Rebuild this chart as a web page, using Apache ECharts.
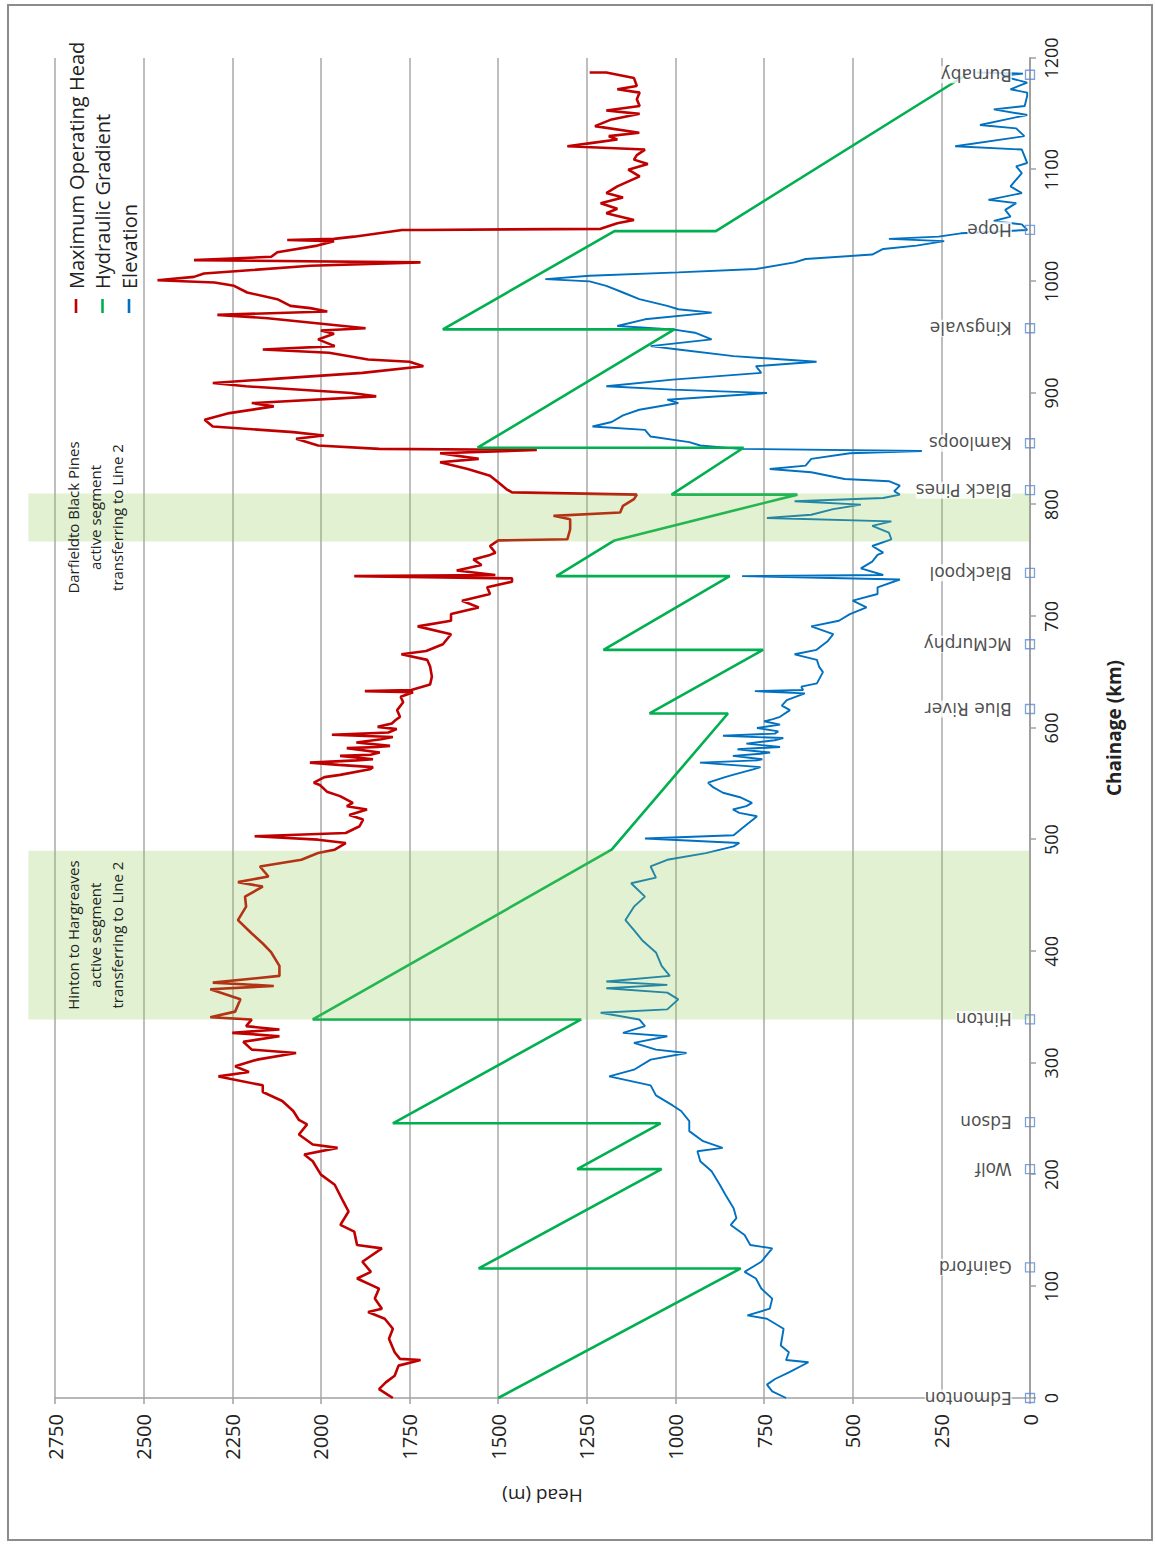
<!DOCTYPE html>
<html>
<head>
<meta charset="utf-8">
<script src="https://cdn.jsdelivr.net/npm/echarts@6/dist/echarts.min.js"></script>
<style>
html, body { margin:0; padding:0; background:#fff; width:1155px; height:1546px; overflow:hidden; }
#frame { position:absolute; left:7px; top:4px; width:1146px; height:1537px; border:2px solid #8c8c8c; box-sizing:border-box; }
#chart { position:absolute; left:0; top:0; width:1546px; height:1155px; transform-origin:0 0; transform:translateY(1546px) rotate(-90deg); }
</style>
</head>
<body>
<div id="frame"></div>
<div id="chart"></div>
<script>
// ---------------- DATA ----------------
const seriesNames = ['Maximum Operating Head', 'Hydraulic Gradient', 'Elevation'];

// [chainage km, head m]
const maximumOperatingHead = [
 [0,1797],[3,1812],[8,1836],[14,1817],[20,1792],[29,1781],[34,1719],[35,1777],[41,1792],[53,1808],
 [62,1797],[71,1820],[77,1867],[80,1828],[89,1848],[98,1836],[107,1898],[113,1859],[122,1883],[134,1828],
 [137,1898],[149,1906],[155,1945],[167,1922],[176,1937],[191,1961],[200,2000],[212,2023],[218,2047],[224,1953],
 [227,2023],[236,2062],[245,2039],[249,2062],[257,2078],[266,2109],[274,2164],[280,2164],[288,2289],[292,2203],
 [297,2242],[303,2180],[309,2070],[312,2195],[319,2219],[324,2117],[327,2250],[330,2117],[333,2211],[339,2195],
 [341,2312],[346,2242],[357,2227],[366,2312],[369,2133],[372,2305],[375,2211],[378,2117],[387,2117],[399,2140],
 [407,2164],[416,2195],[428,2234],[440,2211],[449,2214],[458,2164],[462,2234],[467,2148],[476,2172],[482,2055],
 [488,2008],[491,1961],[497,1930],[500,2008],[503,2187],[506,1930],[512,1891],[518,1881],[522,1920],[527,1870],
 [530,1927],[533,1910],[539,1946],[543,1983],[549,2003],[551,2020],[556,1990],[558,1946],[563,1862],[565,1853],
 [567,1950],[569,2031],[571,1900],[572,1853],[575,1946],[576,1860],[578,1834],[582,1927],[583,1840],[584,1805],
 [587,1900],[590,1830],[592,1797],[594,1969],[596,1810],[599,1786],[601,1840],[604,1800],[607,1790],[610,1777],
 [616,1785],[623,1768],[628,1775],[632,1740],[633,1876],[634,1745],[639,1692],[646,1687],[655,1692],[661,1700],
 [666,1773],[669,1703],[675,1656],[684,1633],[691,1727],[696,1633],[702,1633],[708,1555],
 [714,1602],[720,1523],[726,1531],[731,1461],[734,1461],[736,1906],[737,1508],[741,1617],[746,1547],[751,1570],
 [755,1523],[757,1508],[763,1523],[768,1500],[769,1305],[778,1297],[787,1297],[790,1344],[793,1156],[799,1148],
 [805,1117],[809,1109],[811,1461],[814,1477],[820,1500],[826,1523],[832,1586],[838,1664],[841,1555],[846,1664],
 [849,1391],[850,1836],[853,2008],[859,2070],[862,1992],[865,2078],[870,2305],[876,2328],[882,2258],[888,2133],
 [891,2195],[897,1844],[900,1914],[906,2211],[909,2305],[912,2164],[918,1883],[924,1711],[928,1750],[930,1867],
 [936,1977],[939,2164],[942,1961],[948,2008],[953,1963],[956,2000],[958,1874],[967,2150],[970,2292],[973,1982],
 [976,2030],[978,2086],[984,2123],[990,2208],[996,2245],[999,2300],[1001,2461],[1004,2358],[1007,2330],[1014,2030],
 [1017,1719],[1019,2358],[1022,2140],[1026,2123],[1032,2010],[1036,1963],[1037,2095],[1038,1963],[1040,1907],[1046,1771],
 [1046,1719],[1047,1211],[1052,1164],[1055,1117],[1061,1195],[1065,1164],[1070,1211],[1075,1148],[1079,1195],[1085,1164],
 [1094,1101],[1100,1133],[1105,1078],[1109,1117],[1113,1109],[1118,1086],[1121,1305],[1124,1234],[1127,1164],[1130,1188],
 [1133,1102],[1139,1227],[1145,1180],[1150,1101],[1153,1195],[1157,1101],[1163,1109],[1169,1101],[1172,1164],[1175,1109],
 [1182,1117],[1187,1195],[1187,1242]
];

const hydraulicGradient = [
 [0,1500],[116,816],[116,1555],[205,1039],[205,1277],[246,1042],[246,1797],[339,1266],[339,2023],[491,1180],
 [613,852],[613,1073],[670,753],[670,1203],[736,847],[736,1336],[768,1172],[809,656],[809,1011],[851,808],
 [851,1558],[957,1003],[957,1656],[1045,1172],[1045,886],[1185,180]
];

const elevation = [
 [0,688],[6,727],[12,742],[17,719],[23,680],[32,625],[34,688],[41,680],[47,703],[62,695],
 [71,742],[74,797],[80,734],[89,727],[98,758],[107,773],[113,805],[122,758],[134,727],[137,789],
 [146,805],[155,844],[161,828],[170,836],[182,859],[191,875],[203,898],[212,930],[221,938],[224,867],
 [230,922],[239,961],[248,961],[257,984],[262,1008],[271,1055],[280,1070],[288,1187],[294,1117],[303,1070],
 [309,969],[312,1055],[318,1117],[324,1023],[327,1148],[333,1086],[339,1102],[345,1211],[348,1023],[357,992],
 [363,1023],[367,1195],[370,1023],[373,1195],[378,1016],[387,1039],[399,1055],[410,1094],[419,1117],[428,1141],
 [440,1117],[449,1086],[461,1125],[466,1055],[476,1070],[482,1023],[488,914],[494,836],[497,820],[501,1086],
 [504,836],[512,805],[518,781],[521,770],[524,820],[527,838],[530,800],[533,784],[538,818],[542,866],
 [547,894],[551,908],[556,860],[558,838],[563,781],[565,760],[569,931],[571,770],[572,755],[575,838],
 [577,760],[578,733],[581,825],[583,705],[586,800],[589,720],[591,696],[593,866],[595,720],[597,710],
 [600,770],[603,705],[606,750],[608,725],[610,705],[616,677],[620,700],[625,686],[631,635],[633,776],
 [634,640],[637,645],[640,601],[650,584],[655,595],[661,601],[666,664],[670,602],[678,570],
 [684,555],[691,617],[696,539],[702,508],[708,461],[714,500],[720,430],[726,430],[733,367],[736,812],
 [737,414],[743,477],[749,445],[755,430],[757,414],[763,445],[769,391],[775,398],[781,445],[785,391],
 [788,742],[791,617],[796,555],[800,477],[803,664],[806,414],[809,367],[812,383],[817,367],[821,398],
 [823,523],[829,617],[832,734],[835,633],[841,617],[846,508],[848,305],[850,820],[853,930],[856,961],
 [861,1070],[867,1086],[870,1234],[874,1180],[880,1148],[885,1102],[891,992],[894,1023],[900,742],[903,1008],
 [906,1195],[912,1008],[918,758],[924,773],[928,602],[933,836],[939,992],[942,1070],[948,898],[954,945],
 [957,1008],[960,1164],[966,1086],[972,898],[975,992],[978,1023],[984,1102],[990,1148],[996,1195],[1000,1242],
 [1002,1367],[1005,1242],[1008,992],[1011,773],[1017,664],[1020,633],[1024,445],[1029,414],[1032,320],[1036,242],
 [1038,398],[1040,258],[1043,195],[1046,8],[1051,23],[1054,102],[1058,55],[1064,70],[1070,39],[1073,117],
 [1079,23],[1085,55],[1097,23],[1103,39],[1106,8],[1118,23],[1121,211],[1130,16],[1137,39],[1140,141],
 [1149,8],[1154,102],[1157,15],[1166,8],[1169,8],[1172,55],[1178,8],[1184,80],[1186,20],[1187,150]
];

const stationNames = ['Edmonton','Gainford','Wolf','Edson','Hinton','Blue River','McMurphy','Blackpool','Black Pines','Kamloops','Kingsvale','Hope','Burnaby'];
const stationKm = [0,117,205,247,339,617,675,739,813,855,958,1046,1185];

// shaded segments: [start km, end km]
const bandRanges = [[339,490],[767,810]];
const bandLabels = [
 'Hinton to Hargreaves\nactive segment\ntransferring to Line 2',
 'Darfieldto Black Pines\nactive segment\ntransferring to Line 2'
];
const bandTopHead = 2825;

// ---------------- CHART ----------------
const FONT = "'Open Sans', 'DejaVu Sans', sans-serif";
const chart = echarts.init(document.getElementById('chart'), null, { renderer: 'svg', width: 1546, height: 1155 });

const option = {
  animation: false,
  backgroundColor: 'transparent',
  textStyle: { fontFamily: FONT },
  grid: { left: 148, right: 58, top: 55, bottom: 125 },
  legend: {
    data: seriesNames.map(n => ({ name: n, icon: 'rect' })),
    orient: 'vertical',
    left: 1228,
    top: 61,
    itemWidth: 14,
    itemHeight: 2.6,
    itemGap: 6.5,
    selectedMode: false,
    textStyle: { fontSize: 20, lineHeight: 20, color: '#222', fontFamily: FONT, padding: [0, 0, 0, 5] }
  },
  xAxis: {
    type: 'value', min: 0, max: 1200, interval: 100,
    name: 'Chainage (km)', nameLocation: 'middle', nameGap: 74,
    nameTextStyle: { fontSize: 19, fontWeight: 'bold', color: '#222', fontFamily: FONT },
    axisLine: { show: true, onZero: false, lineStyle: { color: '#a0a0a0', width: 2 } },
    axisTick: { show: true, length: 6, lineStyle: { color: '#a0a0a0', width: 1.5 } },
    axisLabel: { fontSize: 18, color: '#222', margin: 12, formatter: v => String(v) },
    splitLine: { show: false }
  },
  yAxis: {
    type: 'value', min: 0, max: 2750, interval: 250,
    name: 'Head (m)', nameLocation: 'middle', nameGap: 88, nameRotate: 90,
    nameTextStyle: { fontSize: 19, color: '#222', fontFamily: FONT },
    axisLine: { show: true, onZero: false, lineStyle: { color: '#a0a0a0', width: 1.5 } },
    axisTick: { show: true, length: 6, lineStyle: { color: '#a0a0a0', width: 1.5 } },
    axisLabel: { fontSize: 20, color: '#222', margin: 16, formatter: v => String(v) },
    splitLine: { show: true, lineStyle: { color: '#a8a8a8', width: 1.5 } }
  },
  series: [
    {
      name: seriesNames[0], type: 'line', data: maximumOperatingHead, symbol: 'none', z: 3,
      lineStyle: { color: '#c00000', width: 2.6 }, itemStyle: { color: '#c00000' }
    },
    {
      name: seriesNames[1], type: 'line', data: hydraulicGradient, symbol: 'none', z: 4,
      lineStyle: { color: '#00b050', width: 2.6 }, itemStyle: { color: '#00b050' }
    },
    {
      name: seriesNames[2], type: 'line', data: elevation, symbol: 'none', z: 3,
      lineStyle: { color: '#0070c0', width: 1.9 }, itemStyle: { color: '#0070c0' }
    },
    {
      type: 'custom', clip: false, silent: true, z: 10,
      data: bandRanges,
      encode: { x: [0, 1] },
      renderItem: function (params, api) {
        const c0 = api.value(0), c1 = api.value(1);
        const p0 = api.coord([c0, bandTopHead]);
        const p1 = api.coord([c1, 0]);
        return {
          type: 'group',
          children: [
            { type: 'rect', shape: { x: p0[0], y: p0[1], width: p1[0] - p0[0], height: p1[1] - p0[1] },
              style: { fill: 'rgba(140,200,80,0.26)' } },
            { type: 'text', x: (p0[0] + p1[0]) / 2, y: p0[1] + 34,
              style: { text: bandLabels[params.dataIndex], textAlign: 'center', textVerticalAlign: 'top',
                       fontSize: 15, lineHeight: 22, fill: '#222', fontFamily: FONT } }
          ]
        };
      }
    },
    {
      type: 'scatter', clip: false, z: 12, silent: true,
      data: stationKm.map((k, i) => ({ value: [k, 0], name: stationNames[i] })),
      symbol: 'rect', symbolSize: 9,
      itemStyle: { color: 'rgba(255,255,255,0)', borderColor: '#5b8bd0', borderWidth: 1.3 },
      label: {
        show: true, position: 'top', distance: 13, rotate: 90, align: 'left', verticalAlign: 'middle',
        formatter: p => p.name, fontSize: 17, color: '#222', fontFamily: "'DejaVu Sans', sans-serif",
        backgroundColor: '#fff'
      }
    }
  ]
};
chart.setOption(option);
</script>
</body>
</html>
